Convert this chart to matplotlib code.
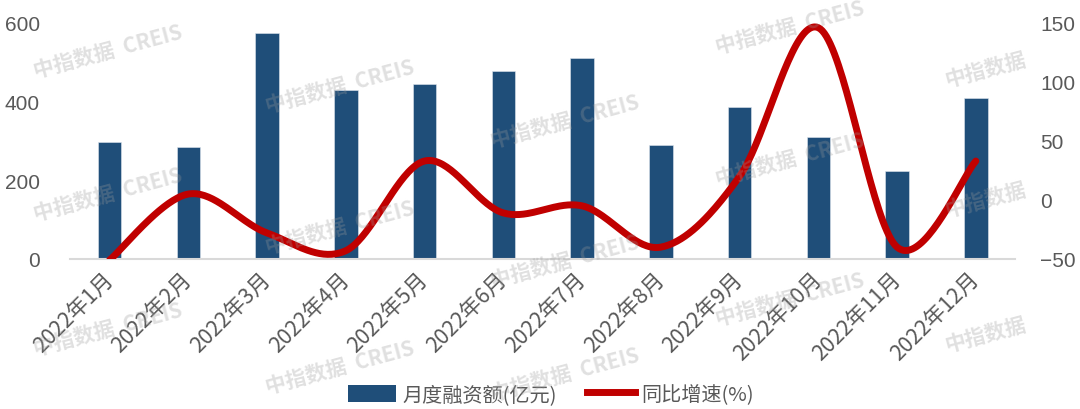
import numpy as np
import matplotlib
matplotlib.use("Agg")
import matplotlib.pyplot as plt
from matplotlib.patches import Patch
from matplotlib.lines import Line2D

plt.rcParams['font.family'] = ['Liberation Sans', 'Noto Sans CJK SC', 'DejaVu Sans']

months = ["2022年1月", "2022年2月", "2022年3月", "2022年4月", "2022年5月", "2022年6月",
          "2022年7月", "2022年8月", "2022年9月", "2022年10月", "2022年11月", "2022年12月"]
financing = [298, 285, 575, 430, 445, 478, 511, 290, 387, 309, 224, 409]
growth = [-51, 5, -28, -43, 33, -11, -5, -40, 20, 146, -40, 33]

bar_label = "月度融资额(亿元)"
line_label = "同比增速(%)"

BAR_C = "#1F4E79"
LINE_C = "#C00000"
TXT_C = "#595959"

fig = plt.figure(figsize=(10.8, 4.1), dpi=100)
ax = fig.add_axes([0.065, 0.366, 0.875, 0.5755])
x = np.arange(len(months))
ax.bar(x, financing, width=0.3, color=BAR_C, edgecolor="#dfe6ee", linewidth=0.4, zorder=2)
ax.set_ylim(0, 600)
ax.set_xlim(-0.5, len(months) - 0.5)
ax.set_yticks([0, 200, 400, 600])
for s in ['top', 'right', 'left']:
    ax.spines[s].set_visible(False)
ax.spines['bottom'].set_color('#D9D9D9')
ax.spines['bottom'].set_linewidth(1.5)
ax.tick_params(axis='both', length=0, colors=TXT_C, labelsize=15)
ax.tick_params(axis='y', pad=22)
ax.tick_params(axis='x', pad=12)
ax.set_xticks(x)
ax.set_xticklabels(months, rotation=45, ha='right', va='center', rotation_mode='anchor',
                   fontsize=15.5, color=TXT_C,
                   family=['Noto Sans CJK SC', 'DejaVu Sans'])
for lab in ax.get_yticklabels():
    lab.set_horizontalalignment('right')

ax2 = ax.twinx()
ax2.set_ylim(-50, 150)
ax2.set_yticks([-50, 0, 50, 100, 150])
for s in ax2.spines.values():
    s.set_visible(False)
ax2.tick_params(axis='y', length=0, colors=TXT_C, labelsize=15, pad=18)

# Catmull-Rom smoothing (Excel-style smoothed line) through the data points
xp = np.array(x, dtype=float)
yp = np.array(growth, dtype=float)
P = np.concatenate([[yp[0]], yp, [yp[-1]]])
Xp = np.concatenate([[xp[0]], xp, [xp[-1]]])
xs, ys = [], []
t = np.linspace(0, 1, 40)
for i in range(1, len(P) - 2):
    p0, p1, p2, p3 = P[i - 1], P[i], P[i + 1], P[i + 2]
    q0, q1, q2, q3 = Xp[i - 1], Xp[i], Xp[i + 1], Xp[i + 2]
    c1y = p1 + (p2 - p0) / 6
    c2y = p2 - (p3 - p1) / 6
    c1x = q1 + (q2 - q0) / 6
    c2x = q2 - (q3 - q1) / 6
    bx = (1 - t) ** 3 * q1 + 3 * (1 - t) ** 2 * t * c1x + 3 * (1 - t) * t ** 2 * c2x + t ** 3 * q2
    by = (1 - t) ** 3 * p1 + 3 * (1 - t) ** 2 * t * c1y + 3 * (1 - t) * t ** 2 * c2y + t ** 3 * p2
    xs.extend(bx)
    ys.extend(by)
ax2.plot(xs, ys, color=LINE_C, linewidth=5, solid_capstyle='round', zorder=3)

# watermarks
wm_full = "中指数据  CREIS"
wm_pos = [(108, 52), (340, 87), (565, 122), (790, 28),
          (108, 195), (340, 228), (565, 262), (790, 160),
          (108, 330), (340, 368), (565, 375), (790, 300)]
for (px, py) in wm_pos:
    fig.text(px / 1080, 1 - py / 410, wm_full, rotation=15, ha='center', va='center',
             fontsize=15, fontweight='bold', color='#9a9a9a', alpha=0.3,
             family=['Noto Sans CJK SC', 'DejaVu Sans'], zorder=10)
for py in [70, 200, 335]:
    fig.text(985 / 1080, 1 - py / 410, "中指数据", rotation=15, ha='center', va='center',
             fontsize=15, fontweight='bold', color='#9a9a9a', alpha=0.3,
             family=['Noto Sans CJK SC', 'DejaVu Sans'], zorder=10)

handles = [Patch(facecolor=BAR_C, edgecolor='none'),
           Line2D([0], [0], color=LINE_C, linewidth=5)]
leg = fig.legend(handles, [bar_label, line_label], loc='center', bbox_to_anchor=(0.51, 0.035),
                 ncol=2, frameon=False, handlelength=2.4, handleheight=0.9,
                 columnspacing=1.5, handletextpad=0.3,
                 prop={'family': ['Noto Sans CJK SC', 'DejaVu Sans'], 'size': 14.5})
for txt in leg.get_texts():
    txt.set_color(TXT_C)

fig.savefig("out.png", dpi=100)
